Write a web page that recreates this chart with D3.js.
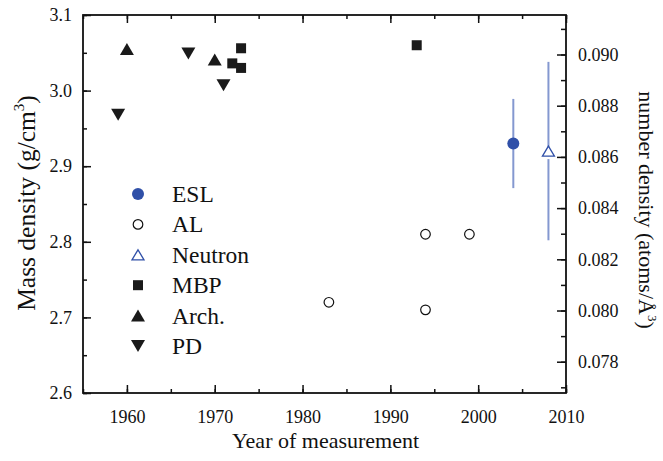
<!DOCTYPE html>
<html>
<head>
<meta charset="utf-8">
<script src="https://cdn.jsdelivr.net/npm/d3@7"></script>
<style>
  body { margin: 0; background: #fff; }
  svg, svg text { font-family: "Liberation Serif", "Times New Roman", serif; }
</style>
</head>
<body>
<div id="chart"></div>
<script>
// ---------- data ---------- //
var eslYears = [2004], eslMass = [2.93], eslErr = [0.059];
var alYears = [1983, 1994, 1994, 1999], alMass = [2.72, 2.81, 2.71, 2.81];
var neutronYears = [2008], neutronMass = [2.92], neutronErr = [0.118];
var mbpYears = [1972, 1973, 1973, 1993], mbpMass = [3.036, 3.056, 3.03, 3.06];
var archYears = [1960, 1970], archMass = [3.055, 3.041];
var pdYears = [1959, 1967, 1971], pdMass = [2.968, 3.049, 3.007];

var xTicks = [1960, 1970, 1980, 1990, 2000, 2010];
var yTicks = [2.6, 2.7, 2.8, 2.9, 3.0, 3.1];
var rTicks = [0.078, 0.080, 0.082, 0.084, 0.086, 0.088, 0.090];
var legendNames = ["ESL", "AL", "Neutron", "MBP", "Arch.", "PD"];
var densityFactor = 0.02953; // atoms/A^3 per g/cm^3

var width = 663, height = 461;
var margin = {top: 15, right: 97, bottom: 68, left: 83};
var blue = "#3050a8", lightBlue = "#8498d0";
var serif = "Liberation Serif, serif";

var svg = d3.select("#chart").append("svg")
  .attr("width", width).attr("height", height);

var x = d3.scaleLinear().domain([1955, 2010]).range([margin.left, width - margin.right]);
var y = d3.scaleLinear().domain([2.6, 3.1]).range([height - margin.bottom, margin.top]);
var yR = d3.scaleLinear().domain([2.6 * densityFactor, 3.1 * densityFactor]).range(y.range());

var fontTick = "18px";

function zip(a, b) { return a.map(function(v, i) { return {x: v, y: b[i]}; }); }

// ---------- axes ---------- //
var minorX = d3.range(1955, 2011, 5);
var minorY = d3.range(2.6, 3.101, 0.05);
var minorR = d3.range(0.077, 0.0915, 0.001);

function styleAxis(g) {
  g.attr("font-family", null).attr("font-size", null);
  g.select(".domain").remove();
  g.selectAll(".tick line").attr("stroke", "#111").attr("stroke-width", 1.5);
  g.selectAll("text").attr("fill", "#111")
    .style("font-family", serif).style("font-size", fontTick);
}

svg.append("g").attr("transform", "translate(0," + y.range()[0] + ")")
  .call(d3.axisBottom(x).tickValues(minorX).tickSize(-4).tickFormat("")).call(styleAxis);
svg.append("g").attr("transform", "translate(0," + y.range()[0] + ")")
  .call(d3.axisBottom(x).tickValues(xTicks).tickSize(-8).tickPadding(17).tickFormat(d3.format("d"))).call(styleAxis);
svg.append("g").attr("transform", "translate(0," + margin.top + ")")
  .call(d3.axisTop(x).tickValues(minorX).tickSize(-4).tickFormat("")).call(styleAxis);
svg.append("g").attr("transform", "translate(0," + margin.top + ")")
  .call(d3.axisTop(x).tickValues(xTicks).tickSize(-8).tickFormat("")).call(styleAxis);

svg.append("g").attr("transform", "translate(" + margin.left + ",0)")
  .call(d3.axisLeft(y).tickValues(minorY).tickSize(-4).tickFormat("")).call(styleAxis);
svg.append("g").attr("transform", "translate(" + margin.left + ",0)")
  .call(d3.axisLeft(y).tickValues(yTicks).tickSize(-8).tickPadding(11).tickFormat(d3.format(".1f"))).call(styleAxis);

svg.append("g").attr("transform", "translate(" + x.range()[1] + ",0)")
  .call(d3.axisRight(yR).tickValues(minorR).tickSize(-5).tickFormat("")).call(styleAxis);
svg.append("g").attr("transform", "translate(" + x.range()[1] + ",0)")
  .call(d3.axisRight(yR).tickValues(rTicks).tickSize(-9).tickPadding(12).tickFormat(d3.format(".3f"))).call(styleAxis);

svg.append("rect")
  .attr("x", x.range()[0]).attr("y", y.range()[1])
  .attr("width", x.range()[1] - x.range()[0]).attr("height", y.range()[0] - y.range()[1])
  .attr("fill", "none").attr("stroke", "#111").attr("stroke-width", 1.8);

// ---------- titles ---------- //
svg.append("text")
  .attr("x", (x.range()[0] + x.range()[1]) / 2 + 1).attr("y", 448)
  .attr("text-anchor", "middle").attr("font-size", "22px").attr("fill", "#111")
  .text("Year of measurement");

var lt = svg.append("text")
  .attr("transform", "translate(35,203) rotate(-90)")
  .attr("text-anchor", "middle").attr("font-size", "25.5px").attr("fill", "#111");
lt.append("tspan").text("Mass density (g/cm");
lt.append("tspan").attr("font-size", "15px").attr("dy", "-11").text("3");
lt.append("tspan").attr("dy", "11").text(")");

var rt = svg.append("text")
  .attr("transform", "translate(639,210) rotate(90)")
  .attr("text-anchor", "middle").attr("font-size", "22px").attr("fill", "#111");
rt.append("tspan").text("number density (atoms/Å");
rt.append("tspan").attr("font-size", "13px").attr("dy", "-9").text("3");
rt.append("tspan").attr("dy", "9").text(")");

// ---------- markers ---------- //
function triUp(w, h) { return "M0," + (-h / 2) + "L" + (w / 2) + "," + (h / 2) + "L" + (-w / 2) + "," + (h / 2) + "Z"; }
function triDown(w, h) { return "M0," + (h / 2) + "L" + (w / 2) + "," + (-h / 2) + "L" + (-w / 2) + "," + (-h / 2) + "Z"; }

var markers = {
  "ESL":     function(g) { g.append("circle").attr("r", 6).attr("fill", blue); },
  "AL":      function(g) { g.append("circle").attr("r", 4.8).attr("fill", "#fff").attr("stroke", "#111").attr("stroke-width", 1.2); },
  "Neutron": function(g) { g.append("path").attr("d", triUp(12, 10)).attr("fill", "#fff").attr("stroke", blue).attr("stroke-width", 1.3); },
  "MBP":     function(g) { g.append("rect").attr("x", -5).attr("y", -5).attr("width", 10).attr("height", 10).attr("fill", "#1a1a1a"); },
  "Arch.":   function(g) { g.append("path").attr("d", triUp(14, 12)).attr("fill", "#1a1a1a"); },
  "PD":      function(g) { g.append("path").attr("d", triDown(14, 12)).attr("fill", "#1a1a1a"); }
};

// error bars
var bars = zip(eslYears, eslMass).map(function(d, i) { d.e = eslErr[i]; return d; })
  .concat(zip(neutronYears, neutronMass).map(function(d, i) { d.e = neutronErr[i]; return d; }));
svg.append("g").selectAll("line").data(bars).join("line")
  .attr("x1", d => x(d.x)).attr("x2", d => x(d.x))
  .attr("y1", d => y(d.y + d.e)).attr("y2", d => y(d.y - d.e))
  .attr("stroke", lightBlue).attr("stroke-width", 2);

var series = [
  ["AL", zip(alYears, alMass)],
  ["MBP", zip(mbpYears, mbpMass)],
  ["Arch.", zip(archYears, archMass)],
  ["PD", zip(pdYears, pdMass)],
  ["ESL", zip(eslYears, eslMass)],
  ["Neutron", zip(neutronYears, neutronMass)]
];

series.forEach(function(s) {
  svg.append("g").selectAll("g").data(s[1]).join("g")
    .attr("transform", d => "translate(" + x(d.x) + "," + y(d.y) + ")")
    .each(function() {
      var g = d3.select(this);
      // small white gap under the open triangle, as in the original
      if (s[0] == "Neutron") g.append("rect").attr("x", -3).attr("y", 5).attr("width", 6).attr("height", 3).attr("fill", "#fff");
      markers[s[0]](g);
    });
});

// ---------- legend ---------- //
var legend = svg.append("g").selectAll("g").data(legendNames).join("g")
  .attr("transform", (d, i) => "translate(138," + (194 + i * 30.4) + ")");
legend.each(function(d) { markers[d](d3.select(this)); });
legend.append("text")
  .attr("x", 34).attr("y", 8)
  .attr("font-size", "23.5px").attr("fill", "#111")
  .text(d => d);
</script>
</body>
</html>
